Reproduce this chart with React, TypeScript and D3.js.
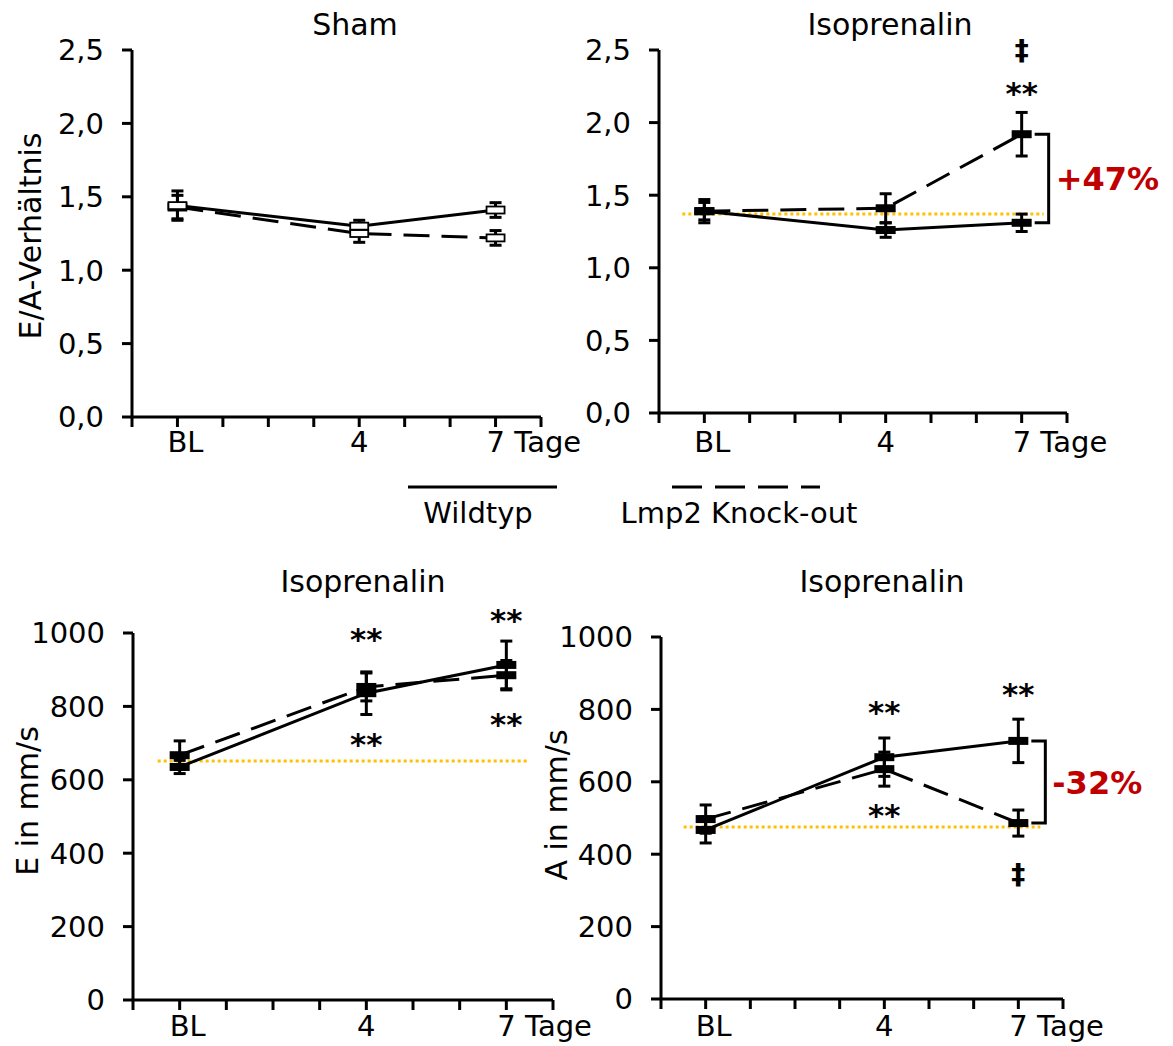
import React from "react";
import * as d3 from "d3";

const days = [0, 4, 7];
const xTickLabels = ["BL", "4", "7 Tage"];

const shamWT = [1.44, 1.3, 1.41];
const shamWTErr = [0.1, 0.04, 0.05];
const shamKO = [1.43, 1.25, 1.22];
const shamKOErr = [0.08, 0.06, 0.05];

const isoWT = [1.39, 1.26, 1.31];
const isoWTErr = [0.08, 0.05, 0.06];
const isoKO = [1.39, 1.41, 1.92];
const isoKOErr = [0.06, 0.1, 0.15];
const isoBaseline = 1.37;

const eWT = [635, 836, 913];
const eWTErr = [18, 58, 65];
const eKO = [667, 853, 885];
const eKOErr = [39, 38, 40];
const eBaseline = 651;

const aWT = [467, 668, 713];
const aWTErr = [36, 53, 60];
const aKO = [497, 635, 486];
const aKOErr = [39, 47, 36];
const aBaseline = 475;

const eaTicks = [0, 0.5, 1, 1.5, 2, 2.5];
const msTicks = [0, 200, 400, 600, 800, 1000];

const FONT = "Verdana, 'DejaVu Sans', sans-serif";
const ORANGE = "#FFC000";
const RED = "#C00000";
const DASH = "26,12";

type Ann = { day: number; text: string; y: number };
type Panel = {
  title: string;
  ylabel: string;
  xr: [number, number];
  yr: [number, number];
  ydom: [number, number];
  yticks: number[];
  fmt: (v: number) => string;
  wt: number[];
  wtErr: number[];
  ko: number[];
  koErr: number[];
  hollow: boolean;
  baseline?: number;
  bracket?: string;
  anns: Ann[];
  titleX: number;
  titleY: number;
  ylabelX: number;
  ylabelY: number;
  xlabelY: number;
};

const fmtComma = (v: number) => d3.format(".1f")(v).replace(".", ",");
const fmtInt = (v: number) => d3.format("d")(v);

const panels: Panel[] = [
  {
    title: "Sham", ylabel: "E/A-Verhältnis",
    xr: [132, 541], yr: [417, 50], ydom: [0, 2.5], yticks: eaTicks, fmt: fmtComma,
    wt: shamWT, wtErr: shamWTErr, ko: shamKO, koErr: shamKOErr, hollow: true,
    anns: [], titleX: 355, titleY: 35, ylabelX: 41, ylabelY: 236, xlabelY: 452,
  },
  {
    title: "Isoprenalin", ylabel: "",
    xr: [659, 1067], yr: [413, 50], ydom: [0, 2.5], yticks: eaTicks, fmt: fmtComma,
    wt: isoWT, wtErr: isoWTErr, ko: isoKO, koErr: isoKOErr, hollow: false,
    baseline: isoBaseline, bracket: "+47%",
    anns: [
      { day: 7, text: "**", y: 2.25 },
      { day: 7, text: "‡", y: 2.49 },
    ],
    titleX: 890, titleY: 35, ylabelX: 0, ylabelY: 0, xlabelY: 452,
  },
  {
    title: "Isoprenalin", ylabel: "E in mm/s",
    xr: [133, 553], yr: [1000, 633], ydom: [0, 1000], yticks: msTicks, fmt: fmtInt,
    wt: eWT, wtErr: eWTErr, ko: eKO, koErr: eKOErr, hollow: false,
    baseline: eBaseline,
    anns: [
      { day: 4, text: "**", y: 1003 },
      { day: 4, text: "**", y: 717 },
      { day: 7, text: "**", y: 1054 },
      { day: 7, text: "**", y: 771 },
    ],
    titleX: 363, titleY: 592, ylabelX: 38, ylabelY: 801, xlabelY: 1036,
  },
  {
    title: "Isoprenalin", ylabel: "A in mm/s",
    xr: [661, 1063], yr: [999, 637], ydom: [0, 1000], yticks: msTicks, fmt: fmtInt,
    wt: aWT, wtErr: aWTErr, ko: aKO, koErr: aKOErr, hollow: false,
    baseline: aBaseline, bracket: "-32%",
    anns: [
      { day: 4, text: "**", y: 812 },
      { day: 4, text: "**", y: 528 },
      { day: 7, text: "**", y: 862 },
      { day: 7, text: "‡", y: 340 },
    ],
    titleX: 882, titleY: 592, ylabelX: 567, ylabelY: 805, xlabelY: 1036,
  },
];

function PanelView({ p }: { p: Panel }) {
  const x = d3.scaleLinear().domain([-1, 8]).range(p.xr);
  const y = d3.scaleLinear().domain(p.ydom).range(p.yr);
  const line = d3
    .line<number>()
    .x((_, i) => x(days[i]))
    .y((v) => y(v));
  const x0 = p.xr[0];
  const y0 = p.yr[0];
  const xTicks = d3.range(-1, 9);
  const series = [
    { vals: p.ko, err: p.koErr, dash: DASH },
    { vals: p.wt, err: p.wtErr, dash: undefined as string | undefined },
  ];
  const hiV = Math.max(p.ko[2], p.wt[2]);
  const loV = Math.min(p.ko[2], p.wt[2]);
  return (
    <g>
      <text x={p.titleX} y={p.titleY} textAnchor="middle" fontSize={30} fontFamily={FONT} fill="#000">
        {p.title}
      </text>
      {p.ylabel && (
        <text
          transform={`translate(${p.ylabelX},${p.ylabelY}) rotate(-90)`}
          textAnchor="middle"
          fontSize={30}
          fontFamily={FONT}
          fill="#000"
        >
          {p.ylabel}
        </text>
      )}
      <line x1={x0} x2={x0} y1={p.yr[1]} y2={y0} stroke="#000" strokeWidth={3} />
      <line x1={x0} x2={p.xr[1]} y1={y0} y2={y0} stroke="#000" strokeWidth={3} />
      {p.yticks.map((t) => (
        <g key={"yt" + t}>
          <line x1={x0 - 10} x2={x0} y1={y(t)} y2={y(t)} stroke="#000" strokeWidth={3} />
          <text x={x0 - 28} y={y(t)} dy="0.36em" textAnchor="end" fontSize={29} fontFamily={FONT} fill="#000">
            {p.fmt(t)}
          </text>
        </g>
      ))}
      {xTicks.map((t) => (
        <line key={"xt" + t} x1={x(t)} x2={x(t)} y1={y0} y2={y0 + 10} stroke="#000" strokeWidth={3} />
      ))}
      {days.map((d, i) => (
        <text
          key={"xl" + d}
          x={i === 2 ? x(d) - 9 : i === 0 ? x(d) + 8 : x(d)}
          y={p.xlabelY}
          textAnchor={i === 2 ? "start" : "middle"}
          fontSize={29}
          fontFamily={FONT}
          fill="#000"
        >
          {xTickLabels[i]}
        </text>
      ))}
      {p.baseline !== undefined && (
        <line
          x1={x(0) - 22}
          x2={x(7) + 22}
          y1={y(p.baseline)}
          y2={y(p.baseline)}
          stroke={ORANGE}
          strokeWidth={3}
          strokeDasharray="3,3"
        />
      )}
      {series.map((s, si) => (
        <path
          key={"s" + si}
          d={line(s.vals) || ""}
          fill="none"
          stroke="#000"
          strokeWidth={3}
          strokeDasharray={s.dash}
        />
      ))}
      {series.map((s, si) => (
        <g key={"e" + si}>
          {s.vals.map((v, i) => {
            const cx = x(days[i]);
            const hi = y(v + s.err[i]);
            const lo = y(v - s.err[i]);
            return (
              <g key={i}>
                <line x1={cx} x2={cx} y1={hi} y2={lo} stroke="#000" strokeWidth={3} />
                <line x1={cx - 6} x2={cx + 6} y1={hi} y2={hi} stroke="#000" strokeWidth={3} />
                <line x1={cx - 6} x2={cx + 6} y1={lo} y2={lo} stroke="#000" strokeWidth={3} />
              </g>
            );
          })}
        </g>
      ))}
      {series.map((s, si) => (
        <g key={"m" + si}>
          {s.vals.map((v, i) => {
            const cx = x(days[i]);
            const cy = y(v);
            return p.hollow ? (
              <rect key={i} x={cx - 9} y={cy - 3.5} width={18} height={7} fill="#fff" stroke="#000" strokeWidth={1.8} />
            ) : (
              <rect key={i} x={cx - 10} y={cy - 4} width={20} height={8} fill="#000" />
            );
          })}
        </g>
      ))}
      {p.bracket && (
        <g>
          <path
            d={`M${x(7) + 13},${y(hiV)} H${x(7) + 27} V${y(loV)} H${x(7) + 13}`}
            fill="none"
            stroke="#000"
            strokeWidth={3}
          />
          <text
            x={x(7) + 34}
            y={(y(hiV) + y(loV)) / 2}
            dy="0.36em"
            fontSize={32}
            fontWeight="bold"
            fontFamily={FONT}
            fill={RED}
          >
            {p.bracket}
          </text>
        </g>
      )}
      {p.anns.map((a, i) => (
        <text
          key={"a" + i}
          x={x(a.day)}
          y={y(a.y)}
          dy={a.text === "**" ? "0.58em" : "0.3em"}
          textAnchor="middle"
          fontSize={a.text === "**" ? 31 : 28}
          fontWeight="bold"
          fontFamily={FONT}
          fill="#000"
        >
          {a.text}
        </text>
      ))}
    </g>
  );
}

export default function App() {
  return (
    <svg
      width={1173}
      height={1046}
      style={{ position: "absolute", left: 0, top: 0, background: "#fff" }}
    >
      <rect width={1173} height={1046} fill="#fff" />
      {panels.map((p, i) => (
        <PanelView key={i} p={p} />
      ))}
      <line x1={408} x2={557} y1={487} y2={487} stroke="#000" strokeWidth={3} />
      <text x={478} y={523} textAnchor="middle" fontSize={29} fontFamily={FONT} fill="#000">
        Wildtyp
      </text>
      <line x1={672} x2={820} y1={487} y2={487} stroke="#000" strokeWidth={3} strokeDasharray="30,13" />
      <text x={739} y={523} textAnchor="middle" fontSize={29} fontFamily={FONT} fill="#000">
        Lmp2 Knock-out
      </text>
    </svg>
  );
}
